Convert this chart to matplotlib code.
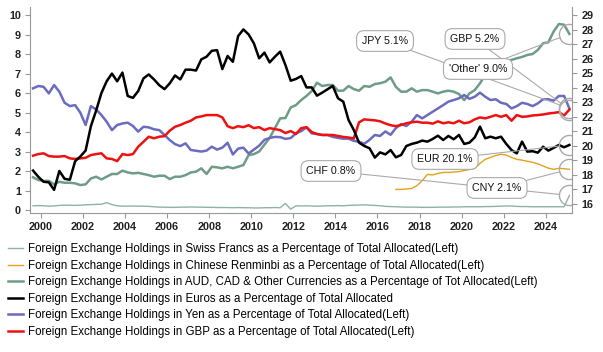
import matplotlib
matplotlib.use("Agg")
import matplotlib.pyplot as plt
import numpy as np
import pandas as pd

plt.rcParams['font.family'] = ['Liberation Sans', 'DejaVu Sans']

# quarterly, 1999Q3 .. 2025Q1, plotted at mid-quarter
quarters = pd.period_range("1999Q3", "2025Q1", freq="Q")
cny_quarters = pd.period_range("2016Q4", "2025Q1", freq="Q")

# shares of allocated reserves, %
chf = [0.22, 0.23, 0.22, 0.20, 0.21, 0.24, 0.25, 0.25, 0.24, 0.25, 0.27, 0.28,
       0.29, 0.30, 0.38, 0.28, 0.22, 0.20, 0.20, 0.21, 0.20, 0.20, 0.19, 0.17,
       0.15, 0.15, 0.14, 0.14, 0.15, 0.15, 0.16, 0.15, 0.15, 0.14, 0.14, 0.13,
       0.13, 0.13, 0.12, 0.13, 0.12, 0.12, 0.11, 0.11, 0.12, 0.12, 0.13, 0.12,
       0.34, 0.05, 0.22,
       0.21, 0.22, 0.21, 0.20, 0.21, 0.22, 0.22, 0.23, 0.22, 0.24, 0.25, 0.26,
       0.27, 0.25, 0.24, 0.22,
       0.19, 0.18, 0.17, 0.16, 0.15, 0.15, 0.15, 0.14, 0.14, 0.14, 0.15, 0.15,
       0.15, 0.16, 0.16, 0.17, 0.17, 0.17, 0.17, 0.18, 0.18, 0.19, 0.20,
       0.21, 0.21, 0.19, 0.18, 0.18, 0.17, 0.17, 0.17, 0.17, 0.17, 0.17, 0.17, 0.75]

cny = [1.06, 1.06, 1.08, 1.11, 1.25, 1.50, 1.83, 1.80, 1.88, 1.93, 1.93, 1.95,
       1.97, 2.03, 2.08, 2.14, 2.39, 2.60, 2.70, 2.80, 2.86, 2.82, 2.70, 2.60,
       2.56, 2.50, 2.45, 2.37, 2.26, 2.15, 2.09, 2.14, 2.12, 2.09]

other = [1.68, 1.54, 1.49, 1.50, 1.32, 1.45, 1.40, 1.40, 1.37, 1.28, 1.32, 1.62,
         1.71, 1.57, 1.71, 1.85, 1.85, 2.02, 1.93, 1.88, 1.91, 1.85, 1.79, 1.71,
         1.76, 1.76, 1.59, 1.71, 1.71, 1.79, 1.93, 1.97,
         2.14, 1.85, 2.22, 2.19, 2.14, 2.22, 2.14, 2.22, 2.31, 2.82, 2.87, 3.00,
         3.35, 3.70, 4.20,
         4.70, 4.72, 5.26, 5.38, 5.64, 5.85, 6.10, 6.53, 6.36, 6.41, 6.41, 6.12,
         6.12, 6.36, 6.20, 6.12, 6.36, 6.32, 6.46, 6.50, 6.58, 6.80, 6.32, 6.07,
         6.07, 6.24, 6.07, 6.15, 6.15, 6.07, 5.98, 6.07, 6.12, 6.07, 5.95, 5.64,
         5.98, 6.15, 6.50, 6.92, 7.18, 7.44, 7.69, 7.65, 7.70, 7.78, 7.85, 7.95,
         8.00, 8.21, 8.55, 8.60, 9.15, 9.54, 9.50, 9.03]

eur = [18.30, 17.87, 17.53, 17.49, 16.97, 18.27, 17.73, 17.67, 18.94, 19.27, 19.68, 21.35,
       22.43, 23.63, 24.44, 24.97, 24.44, 25.04, 23.43, 23.30, 23.77, 24.64, 24.91, 24.57,
       24.17, 23.90, 24.30, 24.84, 24.57, 25.24, 25.24, 25.18,
       25.95, 26.13, 26.54, 26.58, 25.28, 26.18, 25.78, 27.55, 28.01, 27.66, 27.05, 26.02,
       26.41, 25.74, 26.13, 26.48, 25.56, 24.48, 24.60, 24.80, 24.02, 24.02, 23.45, 23.66,
       23.89, 24.12, 23.27, 23.04,
       21.78, 21.09, 20.22, 19.99, 19.83, 19.19, 19.55, 19.41, 19.71, 19.21, 19.37, 19.99,
       20.13, 20.22, 20.36, 20.29, 20.47, 20.70, 20.40, 20.68, 20.45, 20.75, 20.13, 20.22,
       20.58, 21.32, 20.52, 20.63, 20.52, 20.63, 20.13, 19.71, 19.48, 20.29, 19.60, 19.63,
       19.53, 19.94, 19.67, 19.86, 20.06, 19.90, 20.06]

jpy = [6.24, 6.36, 6.32, 5.98, 6.41, 6.07, 5.50, 5.33, 5.38, 4.99, 4.36, 5.33,
       5.16, 4.87, 4.53, 4.10, 4.36, 4.44, 4.48, 4.31, 4.02, 4.27, 4.24, 4.14,
       4.10, 3.85, 3.59, 3.38, 3.28, 3.42, 3.08, 3.04,
       3.00, 3.05, 3.25, 3.10, 3.20, 3.45, 2.85, 3.15, 3.20, 2.90, 3.10, 3.30,
       3.60, 3.70, 3.75,
       3.74, 3.65, 3.69, 3.93, 4.05, 4.24, 3.93, 3.90, 3.85, 3.85, 3.75, 3.70,
       3.66, 3.66, 3.55, 3.50, 3.40, 3.60, 3.85, 3.80, 4.03, 3.86, 4.20, 4.41,
       4.31, 4.53, 4.87, 4.70, 4.87, 5.04, 5.21, 5.38, 5.56, 5.64, 5.73, 5.90,
       5.70, 5.81, 6.02, 5.81, 5.64, 5.68, 5.50, 5.44, 5.21, 5.33, 5.50, 5.44,
       5.33, 5.47, 5.68, 5.68, 5.61, 5.85, 5.85, 5.21]

gbp = [2.79, 2.87, 2.91, 2.77, 2.74, 2.74, 2.77, 2.65, 2.62, 2.65, 2.68, 2.82,
       2.87, 2.91, 2.65, 2.62, 2.51, 2.87, 2.82, 2.87, 3.25, 3.50, 3.76, 3.68,
       3.76, 3.79, 4.07, 4.27, 4.36, 4.48, 4.58, 4.75,
       4.80, 4.87, 4.87, 4.87, 4.75, 4.30, 4.20, 4.30, 4.25, 4.35, 4.20, 4.25,
       4.10, 4.20, 4.15,
       4.10, 3.95, 4.05, 3.90, 4.20, 4.25, 4.00, 3.90, 3.85, 3.85, 3.85, 3.80,
       3.75, 3.72, 3.67, 4.50, 4.65, 4.62, 4.60, 4.55, 4.44, 4.35, 4.30, 4.36,
       4.45, 4.50, 4.53, 4.48, 4.48, 4.43, 4.55, 4.45, 4.50, 4.45, 4.58, 4.45,
       4.50, 4.65, 4.75, 4.70, 4.78, 4.87, 4.78, 4.87, 4.58, 4.87, 4.78, 4.80,
       4.85, 4.87, 4.90, 4.95, 4.98, 5.02, 4.85, 5.15]

labels = [
    "Foreign Exchange Holdings in Swiss Francs as a Percentage of Total Allocated(Left)",
    "Foreign Exchange Holdings in Chinese Renminbi as a Percentage of Total Allocated(Left)",
    "Foreign Exchange Holdings in AUD, CAD & Other Currencies as a Percentage of Tot Allocated(Left)",
    "Foreign Exchange Holdings in Euros as a Percentage of Total Allocated",
    "Foreign Exchange Holdings in Yen as a Percentage of Total Allocated(Left)",
    "Foreign Exchange Holdings in GBP as a Percentage of Total Allocated(Left)",
]


def to_year(p):
    return p.year + (p.quarter - 0.5) / 4


x = np.array(to_year(quarters))
x_cny = np.array(to_year(cny_quarters))

fig = plt.figure(figsize=(6.03, 3.52), dpi=100)
ax = fig.add_axes([30 / 603, 1 - 213 / 352, 542 / 603, 206 / 352])
ax2 = ax.twinx()

l_chf, = ax.plot(x, chf, color="#8fb3a3", lw=1.0)
l_cny, = ax.plot(x_cny, cny, color="#e3a21a", lw=1.0)
l_oth, = ax.plot(x, other, color="#6f9c86", lw=1.8)
l_jpy, = ax.plot(x, jpy, color="#6b6bbf", lw=1.8)
l_gbp, = ax.plot(x, gbp, color="#ee1111", lw=1.8)
l_eur, = ax2.plot(x, eur, color="black", lw=1.8)

ax.set_xlim(1999.48, 2025.25)
ax.set_ylim(-0.15, 10.41)
ax2.set_ylim(15.38, 29.55)
ax.set_xticks(range(2000, 2025, 2))
ax.set_yticks(range(0, 11))
ax2.set_yticks(range(16, 30))

for a in (ax, ax2):
    a.spines["top"].set_visible(False)
    for s in a.spines.values():
        s.set_color("#999999")
    a.tick_params(direction="out", length=3.6, color="#999999", labelsize=7.8,
                  pad=3, labelcolor="#222222")
ax.spines["right"].set_visible(False)
ax2.spines["left"].set_visible(False)
ax2.spines["bottom"].set_visible(False)
for t in ax.get_xticklabels() + ax.get_yticklabels() + ax2.get_yticklabels():
    t.set_fontweight("bold")

# callouts: circle on last value + boxed label, connectors kept under the boxes
box = dict(boxstyle="round,pad=0.5,rounding_size=0.7", fc="white", ec="#aaaaaa", lw=0.8)
arrow = dict(arrowstyle="-", color="#aaaaaa", lw=0.8, shrinkA=0, shrinkB=7)
callouts = [
    ("'Other' 9.0%", ax, other[-1], x[-1], (478, 69)),
    ("JPY 5.1%", ax, jpy[-1], x[-1], (385, 41)),
    ("GBP 5.2%", ax, gbp[-1], x[-1], (475, 39)),
    ("EUR 20.1%", ax2, eur[-1], x[-1], (445, 159)),
    ("CNY 2.1%", ax, cny[-1], x_cny[-1], (497, 188)),
    ("CHF 0.8%", ax, chf[-1], x[-1], (331, 171)),
]
for text, a, yv, xv, (px, py) in callouts:
    pos = (px / 603, 1 - py / 352)
    a.plot([xv], [yv], "o", ms=14.5, mfc="none", mec="#aaaaaa", mew=1.0)
    ax2.annotate("", xy=(xv, yv), xycoords=a.transData,
                 xytext=pos, textcoords="figure fraction",
                 arrowprops=arrow, zorder=4)
for text, a, yv, xv, (px, py) in callouts:
    ax2.text(px / 603, 1 - py / 352, text, transform=fig.transFigure,
             ha="center", va="center", fontsize=7.7, color="#111111",
             bbox=box, zorder=6)

fig.legend([l_chf, l_cny, l_oth, l_eur, l_jpy, l_gbp], labels,
           loc="upper left", bbox_to_anchor=(8 / 603, 1 - 243 / 352),
           frameon=False, fontsize=8.3, handlelength=1.3, handletextpad=0.45,
           labelspacing=0.4, borderaxespad=0, borderpad=0)

fig.savefig("out.png", dpi=100)
